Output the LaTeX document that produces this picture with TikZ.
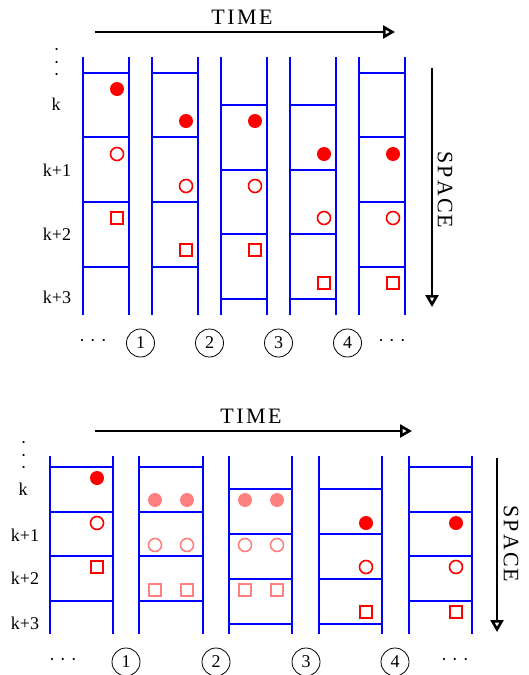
\documentclass[tikz,border=0pt]{standalone}
\usepackage{fontspec}
\setmainfont{Liberation Serif}
\usetikzlibrary{arrows.meta}

% one ladder: left edge, width, top, bottom, list of rung heights
\newcommand\ladder[5]{%
  \draw[rail] (#1,#3) -- (#1,#4) (#1+#2,#3) -- (#1+#2,#4);
  \foreach \r in {#5} \draw[rail] (#1,\r) -- (#1+#2,\r);
}
% text-mode ellipses
\newcommand\hdots{\textperiodcentered\kern5pt\textperiodcentered\kern5pt\textperiodcentered}
\newcommand\tdots{\textperiodcentered\kern6.5pt\textperiodcentered\kern6.5pt\textperiodcentered}

\tikzset{
  rail/.style={blue, line width=1.2pt},
  full/.style={circle, fill=#1, minimum size=14pt, inner sep=0pt},
  full/.default=red,
  ring/.style={circle, draw=#1, line width=1.6pt, minimum size=13pt, inner sep=0pt},
  ring/.default=red,
  box/.style={rectangle, draw=#1, line width=1.6pt, minimum size=11.5pt, inner sep=0pt},
  box/.default=red,
  axis/.style={line width=2.6pt, -{Triangle[open, length=12pt, width=13pt]}},
  lbl/.style={font=\fontsize{18}{20}\selectfont, inner sep=0pt},
  vdots/.style={font=\fontsize{18}{20}\selectfont, inner sep=0pt, rotate=90},
  head/.style={font=\fontsize{22}{24}\selectfont, inner sep=0pt},
  step label/.style={circle, draw, line width=0.8pt, minimum size=28pt, inner sep=0pt,
    font=\fontsize{18}{20}\selectfont},
}

\begin{document}
\begin{tikzpicture}[x=1pt, y=-1pt]
\useasboundingbox (0,0) rectangle (528,675);

% ---------------- upper panel ----------------
\node[head] (time1) at (242,17) {T\kern2.5pt I\kern2.5pt M\kern2.5pt E};
\coordinate (t1a) at (95,32);
\coordinate (t1b) at (395,32);
\draw[axis] (t1a) -- (t1b);

\coordinate (s1a) at (432,68);
\coordinate (s1b) at (432,307);
\draw[axis] (s1a) -- (s1b);
\node[head, rotate=-90] (space1) at (445,190) {S\kern2pt P\kern2pt A\kern2pt C\kern2pt E};

\node[vdots] (vd1) at (59,62) {\tdots};
\node[lbl] (k1a) at (56,104) {k};
\node[lbl] (k1b) at (57,170) {k+1};
\node[lbl] (k1c) at (57,234) {k+2};
\node[lbl] (k1d) at (57,297) {k+3};

\ladder{83}{46}{57}{315}{73,137,202,267}
\ladder{152}{46}{57}{315}{73,137,202,267}
\ladder{221}{46}{57}{315}{105,170,234,299}
\ladder{290}{46}{57}{315}{105,170,234,299}
\ladder{359}{46}{57}{315}{73,137,202,267}

\foreach \i/\x/\ya/\yb/\yc in {1/117/89/154/218, 2/186/121/186/250, 3/255/121/186/250,
                              4/324/154/218/283, 5/393/154/218/283} {
  \node[full] (uf\i) at (\x,\ya) {};
  \node[ring] (ur\i) at (\x,\yb) {};
  \node[box]  (ub\i) at (\x,\yc) {};
}

\node[lbl] (dl1) at (93,343) {\hdots};
\node[lbl] (dr1) at (392,343) {\hdots};
\node[step label] (u1) at (140.5,343) {1};
\node[step label] (u2) at (209.5,343) {2};
\node[step label] (u3) at (278.5,343) {3};
\node[step label] (u4) at (347.5,343) {4};

% ---------------- lower panel ----------------
\node[head] (time2) at (251,416) {T\kern2.5pt I\kern2.5pt M\kern2.5pt E};
\coordinate (t2a) at (95,431);
\coordinate (t2b) at (412,431);
\draw[axis] (t2a) -- (t2b);

\coordinate (s2a) at (497,458);
\coordinate (s2b) at (497,632);
\draw[axis] (s2a) -- (s2b);
\node[head, rotate=-90] (space2) at (511,544) {S\kern2pt P\kern2pt A\kern2pt C\kern2pt E};

\node[vdots] (vd2) at (26,455) {\tdots};
\node[lbl] (k2a) at (23,489) {k};
\node[lbl] (k2b) at (25,535) {k+1};
\node[lbl] (k2c) at (25,578) {k+2};
\node[lbl] (k2d) at (25,623) {k+3};

\ladder{50}{63}{456}{634}{467,512,556,601}
\ladder{139}{64}{456}{634}{467,512,556,601}
\ladder{229}{63}{456}{634}{489,534,579,624}
\ladder{319}{63}{456}{634}{489,534,579,624}
\ladder{409}{63}{456}{634}{467,512,556,601}

% sharp markers
\foreach \i/\x/\ya/\yb/\yc in {1/97/478/523/567, 4/366/523/567/612, 5/456/523/567/612} {
  \node[full] (lf\i) at (\x,\ya) {};
  \node[ring] (lr\i) at (\x,\yb) {};
  \node[box]  (lb\i) at (\x,\yc) {};
}
% split (faded) markers
\foreach \i/\x in {2a/155, 2b/187, 3a/245, 3b/277} {
  \node[full=red!50] (lf\i) at (\x,500) {};
  \node[ring=red!50] (lr\i) at (\x,545) {};
  \node[box=red!50]  (lb\i) at (\x,590) {};
}

\node[lbl] (dl2) at (63,662) {\hdots};
\node[lbl] (dr2) at (455,662) {\hdots};
\node[step label] (l1) at (126,662) {1};
\node[step label] (l2) at (216,662) {2};
\node[step label] (l3) at (306,662) {3};
\node[step label] (l4) at (395,662) {4};
\end{tikzpicture}
\end{document}
